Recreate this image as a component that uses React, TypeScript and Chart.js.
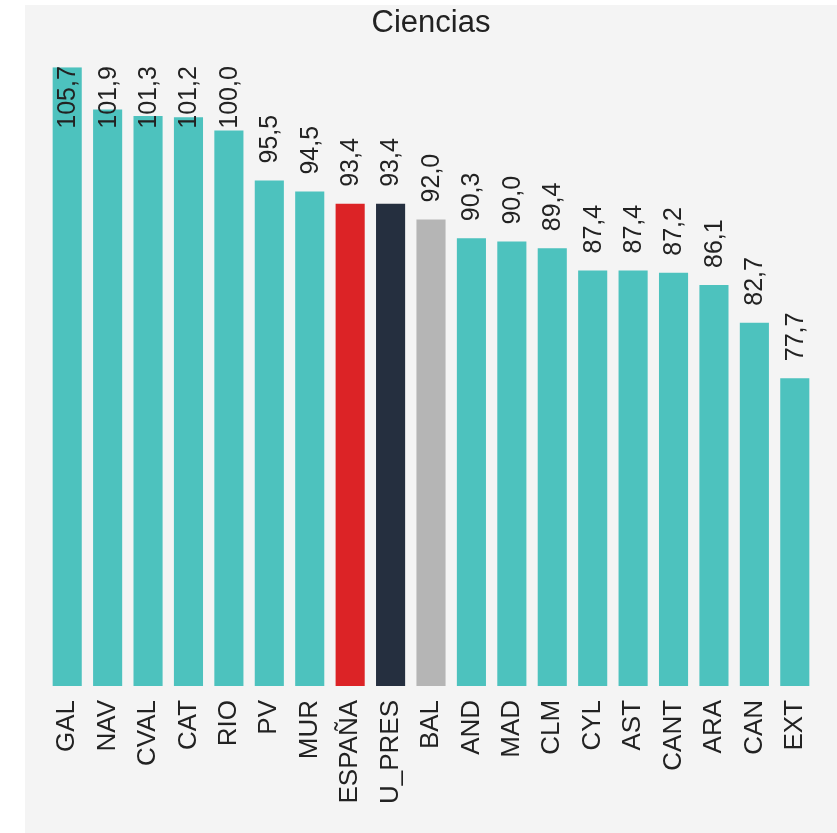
import React, { useEffect, useRef } from "react";
import { Chart, registerables } from "chart.js";

Chart.register(...registerables);

const categories = ["GAL", "NAV", "CVAL", "CAT", "RIO", "PV", "MUR", "ESPAÑA", "U_PRES", "BAL", "AND", "MAD", "CLM", "CYL", "AST", "CANT", "ARA", "CAN", "EXT"];
const values = [105.7, 101.9, 101.3, 101.2, 100.0, 95.5, 94.5, 93.4, 93.4, 92.0, 90.3, 90.0, 89.4, 87.4, 87.4, 87.2, 86.1, 82.7, 77.7];
const highlight: Record<string, string> = { "ESPAÑA": "#dc2326", "U_PRES": "#252f3f", "BAL": "#b5b5b5" };
const baseColor = "#4dc2be";
const titleText = "Ciencias";
const FONT = "'Liberation Sans', Arial, sans-serif";
const TEXT = "#222222";

const bgPlugin = {
  id: "bgbox",
  beforeDraw(chart: any) {
    const ctx = chart.ctx;
    ctx.save();
    ctx.fillStyle = "#ffffff";
    ctx.fillRect(0, 0, chart.width, chart.height);
    ctx.fillStyle = "#f4f4f4";
    ctx.fillRect(25, 5, chart.width - 25, chart.height - 5);
    ctx.restore();
  },
};

const labelPlugin = {
  id: "vlabels",
  afterDatasetsDraw(chart: any) {
    const ctx = chart.ctx;
    const meta = chart.getDatasetMeta(0);
    const top = chart.chartArea.top - 1;
    ctx.save();
    ctx.font = `25px ${FONT}`;
    ctx.fillStyle = TEXT;
    ctx.textAlign = "left";
    ctx.textBaseline = "middle";
    meta.data.forEach((bar: any, i: number) => {
      const txt = values[i].toFixed(1).replace(".", ",");
      const w = ctx.measureText(txt).width;
      let yStart = bar.y - 17;
      if (yStart - w < top) yStart = top + w;
      ctx.save();
      ctx.translate(bar.x + 1, yStart);
      ctx.rotate(-Math.PI / 2);
      ctx.fillText(txt, 0, 0);
      ctx.restore();
    });
    ctx.restore();
  },
};

export default function App() {
  const ref = useRef<HTMLCanvasElement>(null);
  useEffect(() => {
    if (!ref.current) return;
    const chart = new Chart(ref.current, {
      type: "bar",
      data: {
        labels: categories,
        datasets: [
          {
            data: values,
            backgroundColor: categories.map((c) => highlight[c] || baseColor),
            borderWidth: 0,
          },
        ],
      },
      options: {
        animation: false,
        responsive: false,
        devicePixelRatio: 1,
        layout: { padding: { left: 47, right: 22, top: 0, bottom: 15 } },
        plugins: {
          legend: { display: false },
          tooltip: { enabled: false },
          title: {
            display: true,
            text: titleText,
            color: TEXT,
            font: { family: FONT, size: 31, weight: "normal" },
            padding: { top: 5, bottom: 25 },
          },
        },
        scales: {
          x: {
            grid: { display: false, drawTicks: false },
            border: { display: false },
            afterFit: (s: any) => {
              s.paddingLeft = 0;
              s.paddingRight = 0;
            },
            ticks: {
              autoSkip: false,
              minRotation: 90,
              maxRotation: 90,
              padding: 14,
              color: TEXT,
              font: { family: FONT, size: 26 },
            },
          },
          y: {
            display: false,
            min: 50,
            max: 105.7,
          },
        },
      },
      plugins: [bgPlugin, labelPlugin],
    });
    return () => chart.destroy();
  }, []);
  return (
    <canvas
      ref={ref}
      width={837}
      height={833}
      style={{ position: "absolute", left: 0, top: 0, width: 837, height: 833 }}
    />
  );
}
